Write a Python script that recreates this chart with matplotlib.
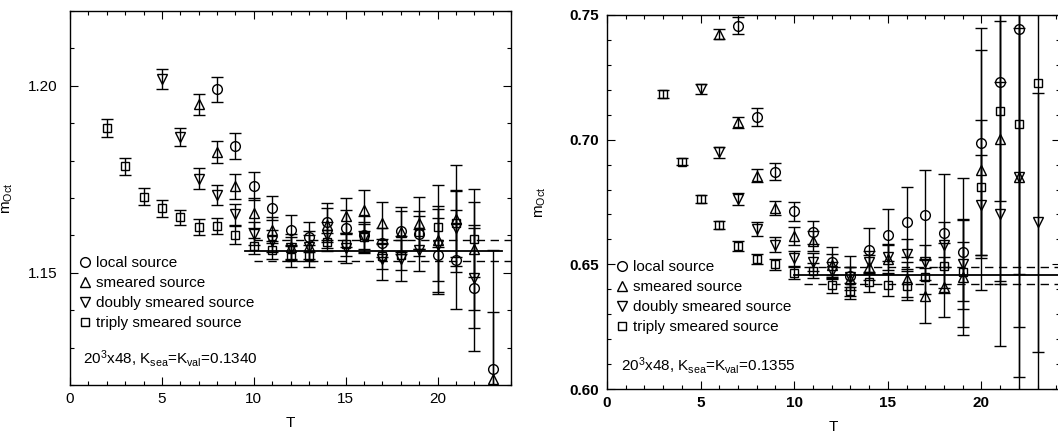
import numpy as np
import matplotlib.pyplot as plt
from matplotlib.lines import Line2D
from matplotlib.ticker import MultipleLocator

plt.rcParams['font.family'] = ['Liberation Sans', 'DejaVu Sans']
plt.rcParams['mathtext.default'] = 'regular'
plt.rcParams['font.size'] = 11

######## left panel: K_sea = K_val = 0.1340 ########
T_loc_L = [8, 9, 10, 11, 12, 13, 14, 15, 16, 17, 18, 19, 20, 21, 22, 23]
loc_L = [1.1991, 1.1838, 1.1732, 1.1673, 1.1614, 1.1595, 1.1637, 1.1619, 1.1602, 1.1581,
         1.1613, 1.1605, 1.1548, 1.1535, 1.1459, 1.1242]
loc_L_err = [0.0033, 0.0035, 0.0037, 0.0033, 0.0040, 0.0040, 0.0049, 0.0050, 0.0050, 0.0040,
             0.0062, 0.0060, 0.0098, 0.0133, 0.0168, 0.0320]

T_sm_L = [7, 8, 9, 10, 11, 12, 13, 14, 15, 16, 17, 18, 19, 20, 21, 22, 23]
sm_L = [1.1951, 1.1823, 1.1731, 1.1661, 1.1614, 1.1570, 1.1572, 1.1628, 1.1652, 1.1667,
        1.1634, 1.1610, 1.1634, 1.1588, 1.1645, 1.1563, 1.1215]
sm_L_err = [0.0028, 0.0030, 0.0034, 0.0040, 0.0035, 0.0035, 0.0040, 0.0045, 0.0048, 0.0055,
            0.0056, 0.0055, 0.0070, 0.0146, 0.0142, 0.0162, 0.0180]

T_dsm_L = [5, 6, 7, 8, 9, 10, 11, 12, 13, 14, 15, 16, 17, 18, 19, 20, 21, 22]
dsm_L = [1.2018, 1.1863, 1.1752, 1.1707, 1.1656, 1.1605, 1.1585, 1.1566, 1.1568, 1.1600,
         1.1566, 1.1595, 1.1536, 1.1538, 1.1561, 1.1574, 1.1619, 1.1486]
dsm_L_err = [0.0026, 0.0024, 0.0027, 0.0027, 0.0029, 0.0030, 0.0030, 0.0030, 0.0032, 0.0035,
             0.0040, 0.0040, 0.0055, 0.0060, 0.0055, 0.0097, 0.0100, 0.0133]

T_tsm_L = [2, 3, 4, 5, 6, 7, 8, 9, 10, 11, 12, 13, 14, 15, 16, 17, 18, 19, 20, 21, 22]
tsm_L = [1.1886, 1.1785, 1.1703, 1.1672, 1.1648, 1.1622, 1.1625, 1.1601, 1.1572, 1.1561,
         1.1543, 1.1545, 1.1583, 1.1576, 1.1597, 1.1545, 1.1548, 1.1608, 1.1623, 1.1632, 1.1590]
tsm_L_err = [0.0024, 0.0023, 0.0023, 0.0022, 0.0021, 0.0021, 0.0021, 0.0024, 0.0022, 0.0025,
             0.0028, 0.0030, 0.0024, 0.0030, 0.0033, 0.0035, 0.0040, 0.0045, 0.0055, 0.0090, 0.0100]

fit_L = 1.1557
fit_L_lo = 1.1532
fit_L_hi = 1.1588

######## right panel: K_sea = K_val = 0.1355 ########
T_loc_R = [7, 8, 9, 10, 11, 12, 13, 14, 15, 16, 17, 18, 19, 20, 21, 22]
loc_R = [0.7457, 0.7090, 0.6872, 0.6712, 0.6628, 0.6508, 0.6455, 0.6556, 0.6618, 0.6670,
         0.6698, 0.6624, 0.6548, 0.6987, 0.7233, 0.7444]
loc_R_err = [0.0035, 0.0035, 0.0035, 0.0040, 0.0045, 0.0060, 0.0080, 0.0090, 0.0105, 0.0140,
             0.0180, 0.0240, 0.0300, 0.0460, 0.0800, 0.1600]

T_sm_R = [6, 7, 8, 9, 10, 11, 12, 13, 14, 15, 16, 17, 18, 19, 20, 21, 22]
sm_R = [0.7424, 0.7070, 0.6856, 0.6726, 0.6613, 0.6594, 0.6499, 0.6443, 0.6488, 0.6522,
        0.6441, 0.6375, 0.6408, 0.6448, 0.6878, 0.7003, 0.6849]
sm_R_err = [0.0020, 0.0022, 0.0025, 0.0030, 0.0035, 0.0040, 0.0042, 0.0045, 0.0050, 0.0060,
            0.0070, 0.0110, 0.0120, 0.0230, 0.0480, 0.0580, 0.0800]

T_dsm_R = [5, 6, 7, 8, 9, 10, 11, 12, 13, 14, 15, 16, 17, 18, 19, 20, 21, 22, 23]
dsm_R = [0.7203, 0.6949, 0.6762, 0.6642, 0.6579, 0.6525, 0.6510, 0.6475, 0.6448, 0.6508,
         0.6528, 0.6542, 0.6508, 0.6578, 0.6501, 0.6739, 0.6702, 0.6849, 0.6669]
dsm_R_err = [0.0020, 0.0022, 0.0025, 0.0028, 0.0030, 0.0030, 0.0035, 0.0035, 0.0040, 0.0045,
             0.0050, 0.0060, 0.0070, 0.0090, 0.0180, 0.0200, 0.0530, 0.0600, 0.0520]

T_tsm_R = [3, 4, 5, 6, 7, 8, 9, 10, 11, 12, 13, 14, 15, 16, 17, 18, 19, 20, 21, 22, 23]
tsm_R = [0.7183, 0.6912, 0.6762, 0.6658, 0.6575, 0.6522, 0.6501, 0.6465, 0.6475, 0.6416,
         0.6393, 0.6430, 0.6419, 0.6415, 0.6451, 0.6495, 0.6471, 0.6809, 0.7116, 0.7063, 0.7226]
tsm_R_err = [0.0015, 0.0015, 0.0015, 0.0017, 0.0020, 0.0020, 0.0022, 0.0025, 0.0030, 0.0030,
             0.0032, 0.0040, 0.0045, 0.0060, 0.0070, 0.0090, 0.0120, 0.0270, 0.0360, 0.0600, 0.1600]

fit_R = 0.6457
fit_R_lo = 0.6423
fit_R_hi = 0.6491

labels = ["local source", "smeared source", "doubly smeared source", "triply smeared source"]
markers = ['o', '^', 'v', 's']
msizes = [7, 7, 7, 6]


def panel(ax, series, fit, lo, hi, solid_x, dash_x, xmax, ylim, ymajor, note, leg_y, note_y):
    for (T, y, e), m, ms in zip(series, markers, msizes):
        ax.errorbar(T, y, yerr=e, fmt=m, ms=ms, mfc='none', mec='k', mew=1.0,
                    ecolor='k', elinewidth=1.0, capsize=4.5, capthick=1.1)
    ax.plot(solid_x, [fit, fit], 'k-', lw=1.3)
    ax.plot(dash_x, [lo, lo], 'k--', lw=1.0, dashes=(6, 4))
    ax.plot(dash_x, [hi, hi], 'k--', lw=1.0, dashes=(6, 4))
    ax.set_xlim(0, xmax)
    ax.set_ylim(*ylim)
    ax.xaxis.set_major_locator(MultipleLocator(5))
    ax.xaxis.set_minor_locator(MultipleLocator(1))
    ax.yaxis.set_major_locator(MultipleLocator(ymajor))
    ax.yaxis.set_minor_locator(MultipleLocator(0.01))
    ax.tick_params(which='both', direction='in', top=True, right=True, width=0.8)
    ax.tick_params(which='major', length=6)
    ax.tick_params(which='minor', length=3)
    ax.tick_params(axis='x', pad=5)
    ax.set_xlabel("T")
    ax.set_ylabel("m$_{Oct}$")
    ax.xaxis.set_label_coords(0.5, -0.082)
    ax.yaxis.set_label_coords(-0.125, 0.5)
    handles = [Line2D([], [], marker=m, ms=ms, mfc='none', mec='k', ls='none')
               for m, ms in zip(markers, msizes)]
    ax.legend(handles, labels, loc='upper left', bbox_to_anchor=(0.02, leg_y),
              frameon=False, handlelength=0.8, handletextpad=0.3, borderpad=0,
              labelspacing=0.4, borderaxespad=0)
    ax.text(0.03, note_y, note, transform=ax.transAxes, va='center', ha='left')
    for s in ax.spines.values():
        s.set_linewidth(1.0)


fig = plt.figure(figsize=(10.58, 4.32), dpi=100)
ax1 = fig.add_axes([0.0662, 0.1088, 0.4168, 0.8657])
ax2 = fig.add_axes([0.5737, 0.0995, 0.4282, 0.8658])

series_L = [(T_loc_L, loc_L, loc_L_err), (T_sm_L, sm_L, sm_L_err),
            (T_dsm_L, dsm_L, dsm_L_err), (T_tsm_L, tsm_L, tsm_L_err)]
series_R = [(T_loc_R, loc_R, loc_R_err), (T_sm_R, sm_R, sm_R_err),
            (T_dsm_R, dsm_R, dsm_R_err), (T_tsm_R, tsm_R, tsm_R_err)]

panel(ax1, series_L, fit_L, fit_L_lo, fit_L_hi, [9.5, 23.5], [10, 24], 24,
      (1.12, 1.22), 0.05, "20$^3$x48, K$_{sea}$=K$_{val}$=0.1340", 0.345, 0.072)
ax1.tick_params(axis='y', pad=9)

panel(ax2, series_R, fit_R, fit_R_lo, fit_R_hi, [10, 25], [10.5, 25], 24.2,
      (0.60, 0.75), 0.05, "20$^3$x48, K$_{sea}$=K$_{val}$=0.1355", 0.345, 0.064)
ax2.tick_params(axis='y', pad=6)
ax2.yaxis.set_label_coords(-0.13, 0.5)
ax2.set_yticks([0.60, 0.65, 0.70, 0.75])
for lab in ax2.get_yticklabels() + ax2.get_xticklabels():
    lab.set_fontweight('bold')

fig.savefig("out.png", dpi=100)
